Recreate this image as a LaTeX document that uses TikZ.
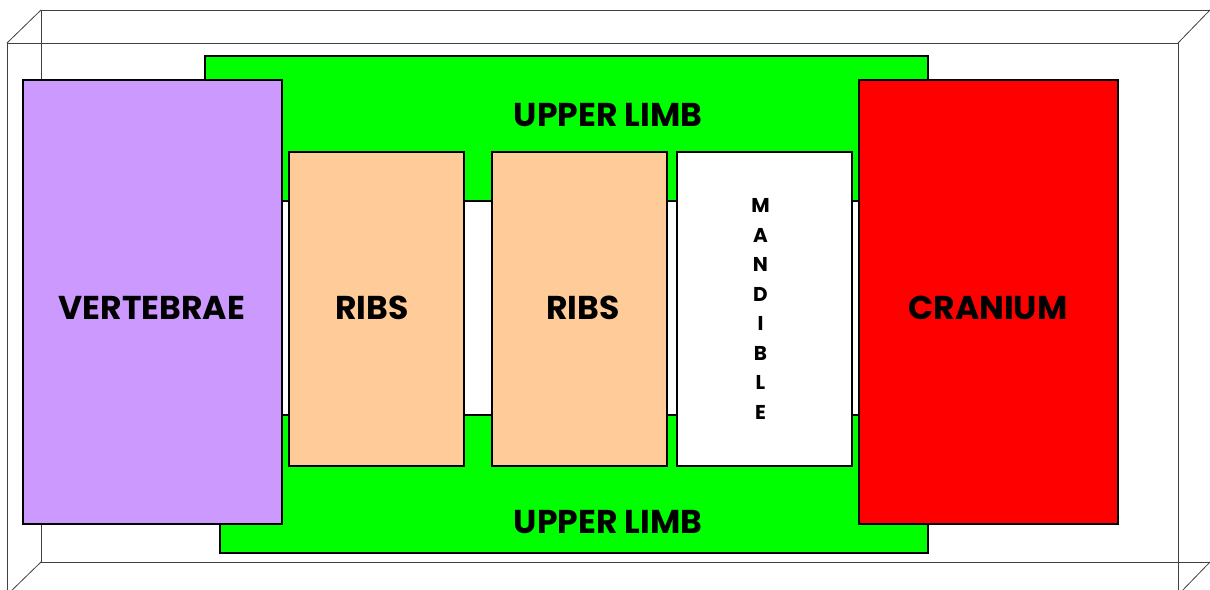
\documentclass[tikz,border=0pt]{standalone}
\usepackage{fontspec}
\setmainfont{Poppins}
\begin{document}
\begin{tikzpicture}[x=1pt,y=-1pt,
  boxed/.style={draw=black, line width=1.3pt, inner sep=0pt, outer sep=0pt},
  label/.style={font=\bfseries\fontsize{33}{36}\selectfont, anchor=base, inner sep=0pt},
  frame/.style={draw=black!75, line width=0.8pt},
]
\useasboundingbox (0,0) rectangle (1210,589);
\clip (0,0) rectangle (1210,589);
% 3D frame
\coordinate (b1) at (41,10);
\coordinate (b2) at (1210,10);
\coordinate (b3) at (1210,562);
\coordinate (b4) at (41,562);
\coordinate (f1) at (7,43);
\coordinate (f2) at (1178,43);
\coordinate (f3) at (1178,595);
\coordinate (f4) at (7,595);
\draw[frame] (b1) -- (b2) -- (b3) -- (b4) -- cycle;
\draw[frame] (f1) -- (f2) -- (f3) -- (f4) -- cycle;
\draw[frame] (b1) -- (f1) (b2) -- (f2) (b3) -- (f3) (b4) -- (f4);
% green upper limb areas
\node[boxed, fill=green, minimum width=723pt, minimum height=145pt, anchor=north west] (ultop) at (205,56) {};
\node[boxed, fill=green, minimum width=708pt, minimum height=138pt, anchor=north west] (ulbot) at (220,415) {};
\node[boxed, fill=white, minimum width=723pt, minimum height=214pt, anchor=north west] (mid) at (205,201) {};
\node[label] (ult) at (608,126) {UPPER LIMB};
\node[label] (ulb) at (608,533) {UPPER LIMB};
% boxes
\node[boxed, fill={rgb,255:red,204;green,153;blue,255}, minimum width=259pt, minimum height=444pt, anchor=north west] (vert) at (23,80) {};
\node[label] (vertt) at (152,319) {VERTEBRAE};
\node[boxed, fill={rgb,255:red,255;green,204;blue,153}, minimum width=175pt, minimum height=314pt, anchor=north west] (ribs1) at (289,152) {};
\node[label] (ribs1t) at (372,319) {RIBS};
\node[boxed, fill={rgb,255:red,255;green,204;blue,153}, minimum width=175pt, minimum height=314pt, anchor=north west] (ribs2) at (492,152) {};
\node[label] (ribs2t) at (583,319) {RIBS};
\node[boxed, fill=white, minimum width=175pt, minimum height=314pt, anchor=north west] (mand) at (677,152) {};
\node[font=\bfseries\fontsize{20}{29.5}\selectfont, align=center, inner sep=0pt] (mandt) at ([xshift=-4pt]mand.center) {M\\A\\N\\D\\I\\B\\L\\E};
\node[boxed, fill=red, minimum width=259pt, minimum height=444pt, anchor=north west] (cran) at (859,80) {};
\node[label] (crant) at (988,319) {CRANIUM};
\end{tikzpicture}
\end{document}
